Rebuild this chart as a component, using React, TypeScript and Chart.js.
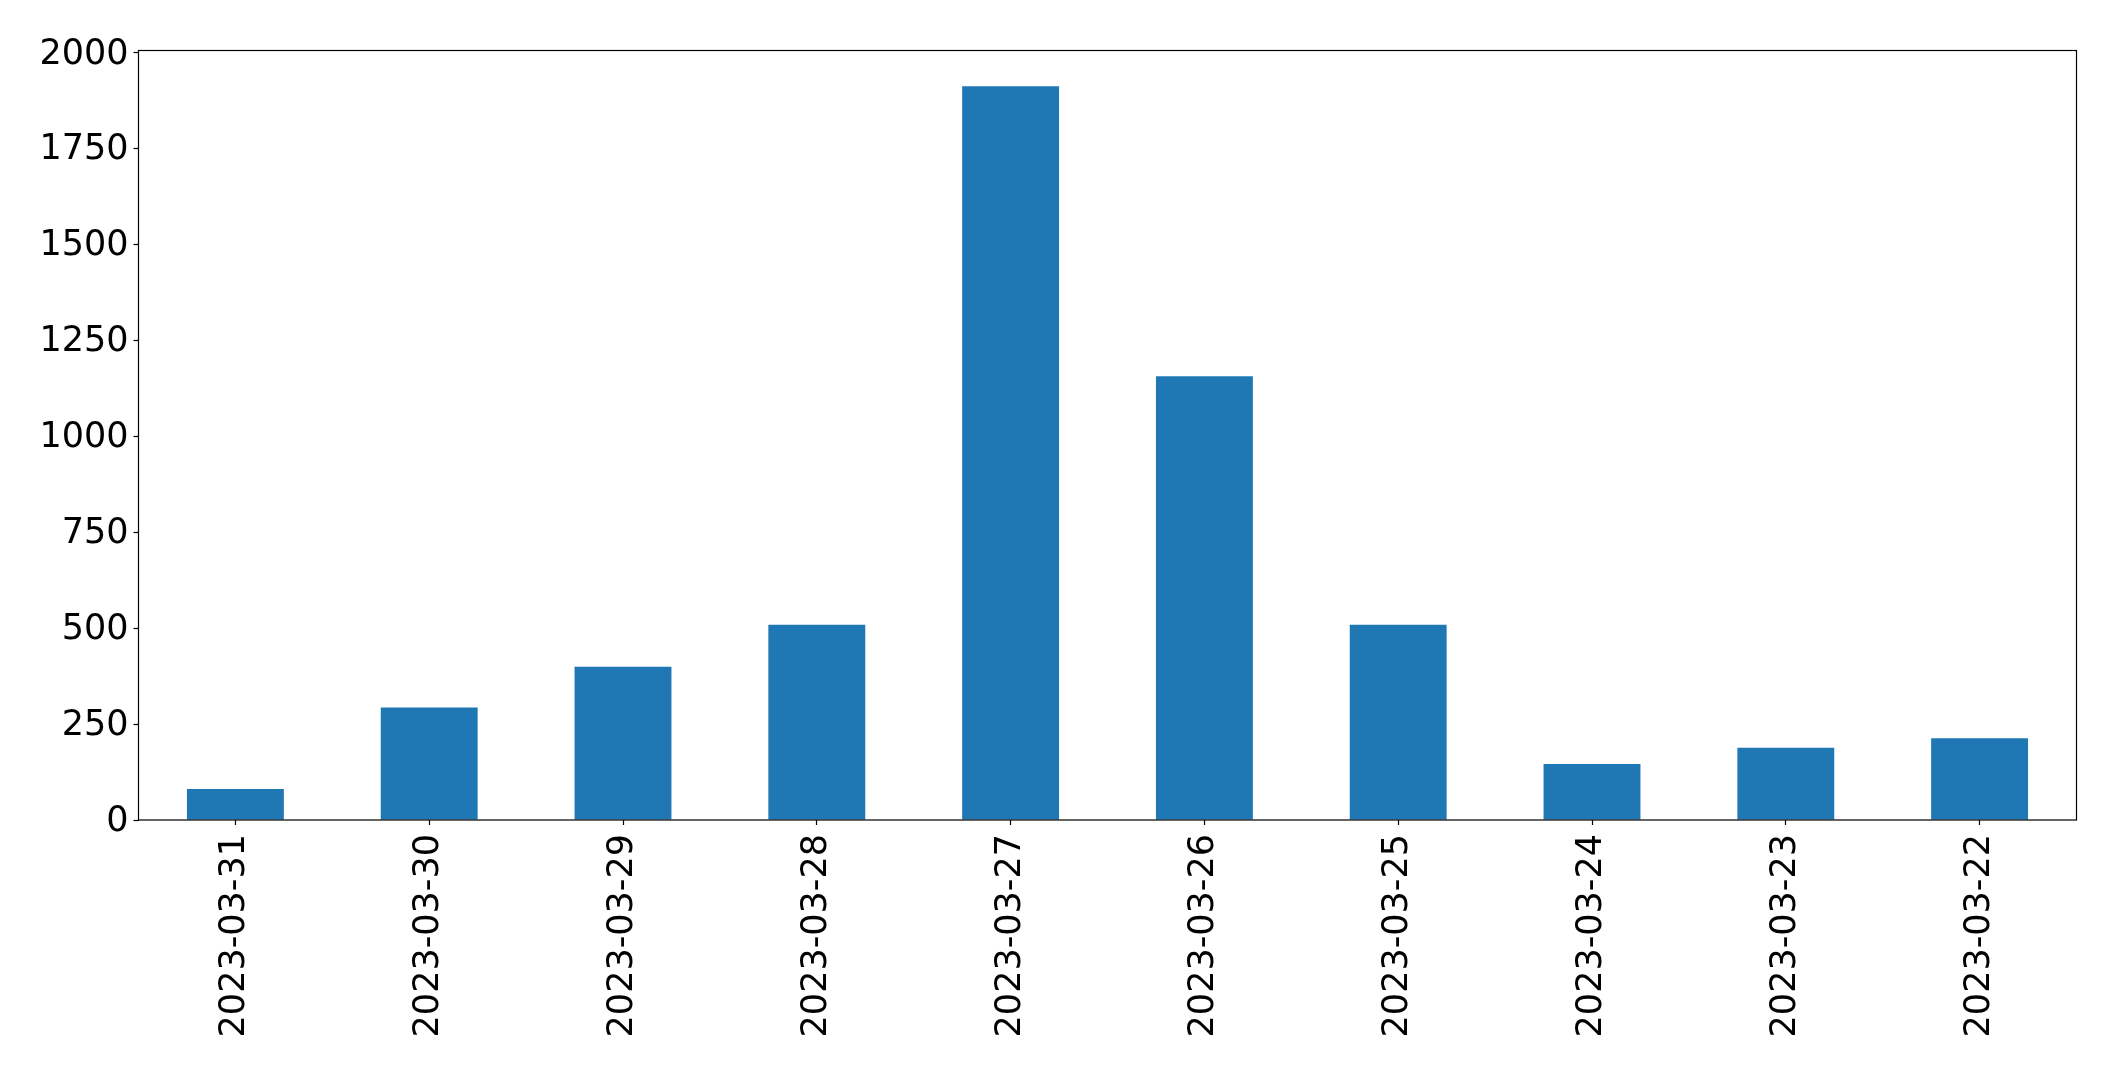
import React, { useEffect, useRef } from "react";
import { Chart, registerables } from "chart.js";

Chart.register(...registerables);

const categories = [
  "2023-03-31",
  "2023-03-30",
  "2023-03-29",
  "2023-03-28",
  "2023-03-27",
  "2023-03-26",
  "2023-03-25",
  "2023-03-24",
  "2023-03-23",
  "2023-03-22",
];
const values = [81, 293, 399, 509, 1912, 1156, 509, 146, 188, 213];
const yTicks = [0, 250, 500, 750, 1000, 1250, 1500, 1750, 2000];
const yMax = 2005;

const W = 2115;
const H = 1072;
const PLOT = { left: 138.5, right: 2076.5, top: 50.5, bottom: 820 };
const FONT = { family: "'DejaVu Sans', sans-serif", size: 35 };

const framePlugin = {
  id: "frame",
  afterDraw(chart: any) {
    const { ctx, chartArea } = chart;
    ctx.save();
    ctx.strokeStyle = "#000";
    ctx.lineWidth = 1.2;
    ctx.strokeRect(
      chartArea.left,
      chartArea.top,
      chartArea.right - chartArea.left,
      chartArea.bottom - chartArea.top
    );
    ctx.restore();
  },
};

export default function App() {
  const ref = useRef<HTMLCanvasElement | null>(null);

  useEffect(() => {
    if (!ref.current) return;
    const chart = new Chart(ref.current, {
      type: "bar",
      data: {
        labels: categories,
        datasets: [
          {
            data: values,
            backgroundColor: "#1f77b4",
            borderWidth: 0,
            categoryPercentage: 1,
            barPercentage: 0.5,
          },
        ],
      },
      options: {
        animation: false,
        responsive: false,
        devicePixelRatio: 1,
        layout: {
          padding: { left: 0, right: W - PLOT.right, top: PLOT.top, bottom: 0 },
        },
        plugins: {
          legend: { display: false },
          tooltip: { enabled: false },
        },
        scales: {
          x: {
            offset: true,
            border: { display: false },
            grid: {
              display: true,
              offset: false,
              drawOnChartArea: false,
              drawTicks: true,
              tickLength: 5,
              tickColor: "#000",
              tickWidth: 1.2,
            },
            ticks: {
              color: "#000",
              font: FONT,
              minRotation: 90,
              maxRotation: 90,
              autoSkip: false,
              padding: 9,
            },
            afterFit(scale: any) {
              scale.height = H - PLOT.bottom;
            },
          },
          y: {
            min: 0,
            max: yMax,
            border: { display: false },
            grid: {
              display: true,
              drawOnChartArea: false,
              drawTicks: true,
              tickLength: 5,
              tickColor: "#000",
              tickWidth: 1.2,
            },
            ticks: {
              color: "#000",
              font: FONT,
              padding: 5,
              labelOffset: 2,
              callback: (v: any) => String(v),
            },
            afterBuildTicks(scale: any) {
              scale.ticks = yTicks.map((v) => ({ value: v }));
            },
            afterFit(scale: any) {
              scale.width = PLOT.left;
            },
          },
        },
      },
      plugins: [framePlugin],
    });
    return () => chart.destroy();
  }, []);

  return (
    <div style={{ position: "absolute", left: 0, top: 0, width: W, height: H, background: "#fff" }}>
      <canvas ref={ref} width={W} height={H} style={{ display: "block", width: W, height: H }} />
    </div>
  );
}
